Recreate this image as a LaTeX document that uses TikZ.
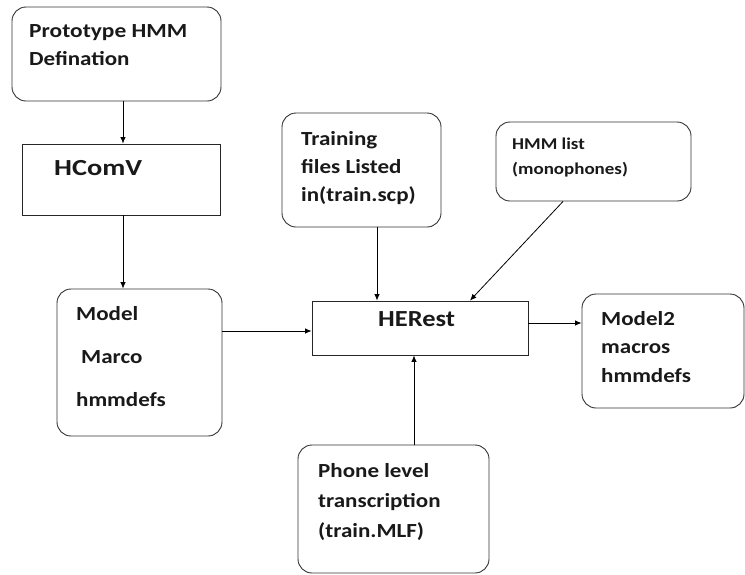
\documentclass[tikz,border=0pt]{standalone}
\usepackage{fontspec}
\usepackage{graphicx}
\setmainfont{Carlito}[FakeStretch=1.15]
\usetikzlibrary{arrows.meta}
\begin{document}
\begin{tikzpicture}[x=1pt,y=-1pt,
  rbox/.style={draw=black!80,line width=0.9pt,rounded corners=14pt,fill=white},
  sbox/.style={draw=black!85,line width=0.9pt,fill=white},
  txt/.style={anchor=base west,inner sep=0pt,font=\fontsize{20}{24}\selectfont\bfseries,text=black!90},
  small/.style={anchor=base west,inner sep=0pt,font=\fontsize{16.5}{20}\selectfont\bfseries,text=black!90},
  big/.style={anchor=base west,inner sep=0pt,font=\fontsize{23}{28}\selectfont\bfseries,text=black!90},
  arr/.style={-{Latex[length=6.5pt,width=5.5pt]},line width=0.8pt,black}]
\useasboundingbox (0,0) rectangle (745,574);
\fill[white] (0,0) rectangle (745,574);

% boxes
\node[rbox,minimum width=209pt,minimum height=94pt] (proto) at (116.5,54) {};
\node[sbox,minimum width=198pt,minimum height=71pt] (hcomv) at (121,179.5) {};
\node[rbox,minimum width=165pt,minimum height=147pt] (model) at (139.5,362.5) {};
\node[sbox,minimum width=216pt,minimum height=54pt] (herest) at (420,328) {};
\node[rbox,minimum width=159pt,minimum height=114pt] (train) at (361.5,170) {};
\node[rbox,minimum width=195pt,minimum height=79pt] (hmmlist) at (593.5,161.5) {};
\node[rbox,minimum width=162pt,minimum height=114pt] (model2) at (663,351) {};
\node[rbox,minimum width=191pt,minimum height=128pt] (phone) at (393.5,509) {};

% labels
\node[txt] (t1a) at (29,37) {\resizebox{158pt}{\height}{Prototype HMM}};
\node[txt] (t1b) at (29,65) {Defination};
\node[big] (t2) at (54,175) {\resizebox{88pt}{\height}{HComV}};
\node[txt] (t3a) at (76,320) {Model};
\node[txt] (t3b) at (81,363) {Marco};
\node[txt] (t3c) at (76,406) {hmmdefs};
\node[big] (t4) at (378,326) {HERest};
\node[txt] (t5a) at (301,145) {Training};
\node[txt] (t5b) at (301,173) {files Listed};
\node[txt] (t5c) at (301,201) {in(train.scp)};
\node[small] (t6a) at (512,149) {HMM list};
\node[small] (t6b) at (512,174) {(monophones)};
\node[txt] (t7a) at (601,325) {Model2};
\node[txt] (t7b) at (601,353) {macros};
\node[txt] (t7c) at (601,382) {hmmdefs};
\node[txt] (t8a) at (318,477) {Phone level};
\node[txt] (t8b) at (318,507) {transcription};
\node[txt] (t8c) at (318,537) {(train.MLF)};

% connector guide positions
\coordinate (xa) at (123,0);
\coordinate (xb) at (377,0);
\coordinate (xc) at (563,0);
\coordinate (xd) at (470,0);
\coordinate (xe) at (414,0);
\coordinate (ya) at (0,331);
\coordinate (yb) at (0,323);

% connectors
\draw[arr] (proto.south -| xa) -- (hcomv.north -| xa);
\draw[arr] (hcomv.south -| xa) -- (model.north -| xa);
\draw[arr] (model.east |- ya) -- (herest.west |- ya);
\draw[arr] (train.south -| xb) -- (herest.north -| xb);
\draw[arr] (hmmlist.south -| xc) -- (herest.north -| xd);
\draw[arr] (herest.east |- yb) -- (model2.west |- yb);
\draw[arr] (phone.north -| xe) -- (herest.south -| xe);
\end{tikzpicture}
\end{document}
